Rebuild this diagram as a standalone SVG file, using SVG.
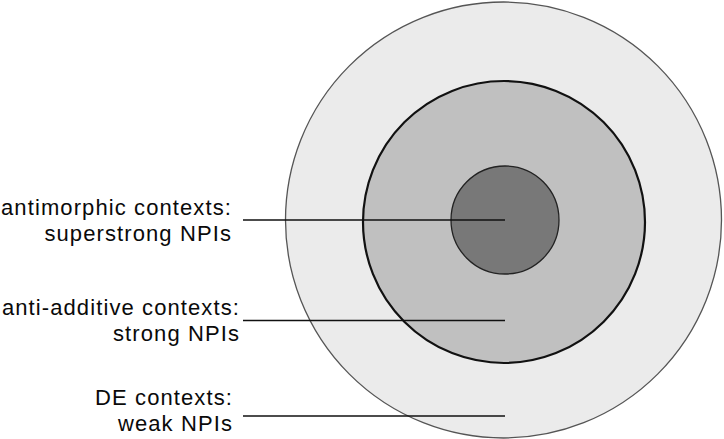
<svg xmlns="http://www.w3.org/2000/svg" width="724" height="439" viewBox="0 0 724 439">
<style>
.lbl{font-family:"Liberation Sans",Arial,sans-serif;font-size:22px;letter-spacing:1.1px;fill:#0a0a0a;text-anchor:end}
.ln{stroke:#111;stroke-width:1.3;fill:none}
</style>
<rect width="724" height="439" fill="#fff"/>
<g id="outer"><circle cx="503.5" cy="220" r="218" fill="#ebebeb" stroke="#555" stroke-width="1.3"/></g>
<g id="middle"><circle cx="504" cy="222" r="141" fill="#c0c0c0" stroke="#111" stroke-width="2.2"/></g>
<g id="inner"><circle cx="505" cy="220" r="54" fill="#787878" stroke="#222" stroke-width="1.3"/></g>
<g id="connectors">
<line class="ln" x1="243" y1="220" x2="505" y2="220"/>
<line class="ln" x1="243" y1="320.5" x2="505" y2="320.5"/>
<line class="ln" x1="243" y1="416" x2="505" y2="416"/>
</g>
<g id="label-antimorphic">
<text class="lbl" x="232" y="214.5">antimorphic contexts:</text>
<text class="lbl" x="232" y="240.5">superstrong NPIs</text>
</g>
<g id="label-antiadditive">
<text class="lbl" x="240" y="315">anti-additive contexts:</text>
<text class="lbl" x="240" y="341">strong NPIs</text>
</g>
<g id="label-de">
<text class="lbl" x="233" y="405">DE contexts:</text>
<text class="lbl" x="233" y="431">weak NPIs</text>
</g>
</svg>
